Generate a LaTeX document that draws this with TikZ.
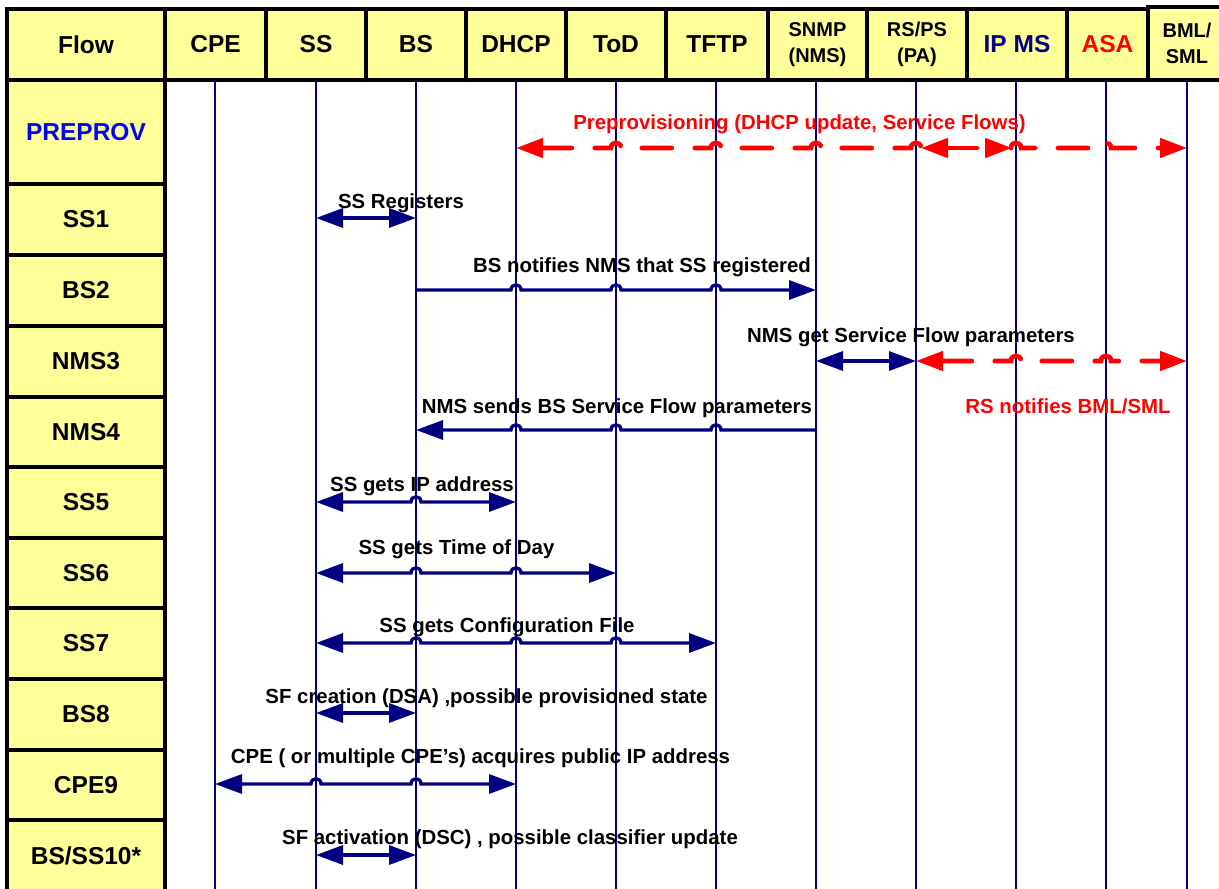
\documentclass[tikz,border=0pt]{standalone}
\usepackage{fontspec}
\setmainfont{Liberation Sans}
\usetikzlibrary{arrows.meta}

\definecolor{cellfill}{HTML}{FFFF99}
\definecolor{navyline}{HTML}{000080}
\definecolor{alertred}{HTML}{FF0000}
\definecolor{preblue}{HTML}{0000FF}

% lifeline positions
\def\xCPE{215}
\def\xSS{316}
\def\xBS{416}
\def\xDHCP{516}
\def\xToD{616}
\def\xTFTP{716}
\def\xSNMP{816}
\def\xRS{916}
\def\xIPMS{1016}
\def\xASA{1106}
\def\xBML{1187}

% small upward hops where a message crosses a lifeline
\newcommand\linehops[2]{\foreach \h in {#2} { -- (\h-5,#1) .. controls (\h-5,#1-7) and (\h+5,#1-7) .. (\h+5,#1)}}

\begin{document}
\begin{tikzpicture}[x=1pt,y=-1pt,
  cell/.style={draw=black, line width=3.5pt, fill=cellfill, inner sep=0pt,
    align=center, font=\fontsize{24.5}{28}\selectfont\bfseries},
  twoline/.style={font=\fontsize{20}{26}\selectfont\bfseries},
  lifeline/.style={navyline, line width=1.3pt},
  msg/.style={navyline, line width=3.3pt, >={Triangle[length=27pt,width=19pt]}},
  redmsg/.style={alertred, line width=4.7pt, dash pattern=on 30pt off 23pt,
    line cap=round, >={Triangle[length=27pt,width=19pt]}},
  lab/.style={anchor=base, inner sep=0pt, font=\fontsize{20.4}{24}\selectfont\bfseries},
]
\useasboundingbox (0,0) rectangle (1219,889);
\clip (0,0) rectangle (1219,889);
\fill[white] (0,0) rectangle (1219,889);

% header row
\node[cell, minimum width=158pt, minimum height=71pt] (hflow) at (86,44.5) {Flow};
\node[cell, minimum width=101pt, minimum height=71pt] (hcpe)  at (215.5,44.5) {CPE};
\node[cell, minimum width=100pt, minimum height=71pt] (hss)   at (316,44.5) {SS};
\node[cell, minimum width=100pt, minimum height=71pt] (hbs)   at (416,44.5) {BS};
\node[cell, minimum width=100pt, minimum height=71pt] (hdhcp) at (516,44.5) {DHCP};
\node[cell, minimum width=100pt, minimum height=71pt] (htod)  at (616,44.5) {ToD};
\node[cell, minimum width=102pt, minimum height=71pt] (htftp) at (717,44.5) {TFTP};
\node[cell, twoline, minimum width=99pt, minimum height=71pt] (hsnmp) at (817.5,44.5) {SNMP\\(NMS)};
\node[cell, twoline, minimum width=100pt, minimum height=71pt] (hrsps) at (917,44.5) {RS/PS\\(PA)};
\node[cell, minimum width=100pt, minimum height=71pt, text=navyline] (hipms) at (1017,44.5) {IP MS};
\node[cell, minimum width=81pt, minimum height=71pt, text=alertred] (hasa) at (1107.5,44.5) {ASA};
\node[cell, twoline, minimum width=78pt, minimum height=73pt] (hbml) at (1187,43.5) {BML/\\SML};

% flow column
\node[cell, minimum width=158pt, minimum height=104pt, text=preblue] (rpre) at (86,132) {PREPROV};
\node[cell, minimum width=158pt, minimum height=71pt] (r1)  at (86,219.5) {SS1};
\node[cell, minimum width=158pt, minimum height=71pt] (r2)  at (86,290.5) {BS2};
\node[cell, minimum width=158pt, minimum height=71pt] (r3)  at (86,361.5) {NMS3};
\node[cell, minimum width=158pt, minimum height=70pt] (r4)  at (86,432) {NMS4};
\node[cell, minimum width=158pt, minimum height=71pt] (r5)  at (86,502.5) {SS5};
\node[cell, minimum width=158pt, minimum height=70pt] (r6)  at (86,573) {SS6};
\node[cell, minimum width=158pt, minimum height=71pt] (r7)  at (86,643.5) {SS7};
\node[cell, minimum width=158pt, minimum height=71pt] (r8)  at (86,714.5) {BS8};
\node[cell, minimum width=158pt, minimum height=70pt] (r9)  at (86,785) {CPE9};
\node[cell, minimum width=158pt, minimum height=72pt] (r10) at (86,856) {BS/SS10*};

% lifelines
\foreach \x in {\xCPE,\xSS,\xBS,\xDHCP,\xToD,\xTFTP,\xSNMP,\xRS,\xIPMS,\xASA,\xBML}
  \draw[lifeline] (\x,81.75) -- (\x,889);

% PREPROV
\draw[redmsg,<-] (\xDHCP,148) \linehops{148}{\xToD,\xTFTP,\xSNMP,\xRS};
\draw[redmsg,<->] (921,148) -- (1012,148);
\draw[redmsg,->] (\xIPMS-5,148) \linehops{148}{\xIPMS,\xASA} -- (\xBML,148);
\node[lab, text=alertred] (lpre) at (799.5,129) {Preprovisioning (DHCP update, Service Flows)};

% SS1
\draw[msg,<->] (\xSS,218) -- (\xBS,218);
\node[lab] (l1) at (401,208) {SS Registers};

% BS2
\draw[msg,->] (\xBS,290) \linehops{290}{\xDHCP,\xToD,\xTFTP} -- (\xSNMP,290);
\node[lab] (l2) at (642,272) {BS notifies NMS that SS registered};

% NMS3
\draw[msg,<->] (\xSNMP,361) -- (\xRS,361);
\draw[redmsg,<->] (\xRS,361) \linehops{361}{\xIPMS,\xASA} -- (\xBML,361);
\node[lab] (l3) at (911,342) {NMS get Service Flow parameters};
\node[lab, text=alertred] (l3b) at (1068,413) {RS notifies BML/SML};

% NMS4
\draw[msg,<-] (\xBS,430) \linehops{430}{\xDHCP,\xToD,\xTFTP} -- (\xSNMP,430);
\node[lab] (l4) at (617,413) {NMS sends BS Service Flow parameters};

% SS5
\draw[msg,<->] (\xSS,502) \linehops{502}{\xBS} -- (\xDHCP,502);
\node[lab] (l5) at (422,491) {SS gets IP address};

% SS6
\draw[msg,<->] (\xSS,573) \linehops{573}{\xBS,\xDHCP} -- (\xToD,573);
\node[lab] (l6) at (456.5,554) {SS gets Time of Day};

% SS7
\draw[msg,<->] (\xSS,643) \linehops{643}{\xBS,\xDHCP,\xToD} -- (\xTFTP,643);
\node[lab] (l7) at (507,632) {SS gets Configuration File};

% BS8
\draw[msg,<->] (\xSS,713) -- (\xBS,713);
\node[lab] (l8) at (486.5,703) {SF creation (DSA) ,possible provisioned state};

% CPE9
\draw[msg,<->] (\xCPE,784) \linehops{784}{\xSS,\xBS} -- (\xDHCP,784);
\node[lab] (l9) at (480.5,763) {CPE ( or multiple CPE’s) acquires public IP address};

% BS/SS10
\draw[msg,<->] (\xSS,855) -- (\xBS,855);
\node[lab] (l10) at (510,844) {SF activation (DSC) , possible classifier update};
\end{tikzpicture}
\end{document}
